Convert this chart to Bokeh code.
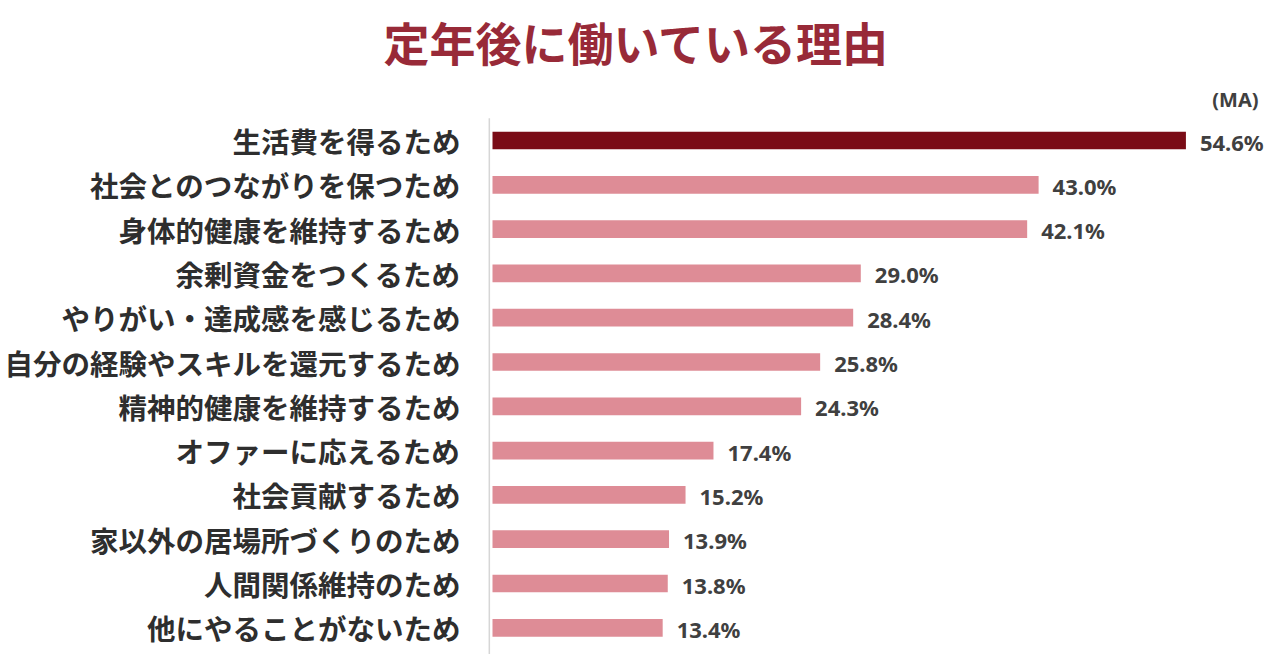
from bokeh.plotting import figure
from bokeh.models import Range1d, Label, ColumnDataSource
from bokeh.core.properties import value
from bokeh.embed import file_html
from bokeh.resources import INLINE

title_text = "定年後に働いている理由"
note_text = "(MA)"
categories = [
    "生活費を得るため",
    "社会とのつながりを保つため",
    "身体的健康を維持するため",
    "余剰資金をつくるため",
    "やりがい・達成感を感じるため",
    "自分の経験やスキルを還元するため",
    "精神的健康を維持するため",
    "オファーに応えるため",
    "社会貢献するため",
    "家以外の居場所づくりのため",
    "人間関係維持のため",
    "他にやることがないため",
]
values = [54.6, 43.0, 42.1, 29.0, 28.4, 25.8, 24.3, 17.4, 15.2, 13.9, 13.8, 13.4]

HIGHLIGHT = "#7A0C16"
BASE = "#DE8C96"

W, H = 1264, 654
PX_PER_UNIT = 12.7    # horizontal scale (px per %)
ZERO_PX = 492         # pixel of x=0 in canvas
ROW_PX = 44.3         # vertical spacing per row
FIRST_ROW_PX = 140    # pixel from top of first row centre

n = len(categories)
idx = list(range(n))
colors = [HIGHLIGHT if i == 0 else BASE for i in idx]
val_labels = [f"{v:.1f}%" for v in values]

src = ColumnDataSource(dict(y=idx, v=values, cat=categories, color=colors,
                            lab=val_labels, zero=[0] * n))

x_range = Range1d(-ZERO_PX / PX_PER_UNIT, (W - ZERO_PX) / PX_PER_UNIT)
y_range = Range1d((H - FIRST_ROW_PX) / ROW_PX, -FIRST_ROW_PX / ROW_PX)

p = figure(width=W, height=H, x_range=x_range, y_range=y_range,
           output_backend="svg", toolbar_location=None,
           x_axis_location=None, y_axis_location=None,
           min_border=0, min_border_left=0, min_border_right=0,
           min_border_top=0, min_border_bottom=0)
p.outline_line_color = None
p.background_fill_color = "white"
p.border_fill_color = "white"
p.grid.visible = False

# vertical baseline
p.segment(x0=[-0.25], y0=[-0.5], x1=[-0.25], y1=[n - 0.2],
          line_color="#D6D6D6", line_width=1.5)

p.hbar(y="y", left="zero", right="v", height=0.4, fill_color="color",
       line_color=None, source=src)

p.text(x="zero", y="y", text="cat", source=src, x_offset=-32,
       text_align="right", text_baseline="middle",
       text_font=value("Noto Sans CJK JP"), text_font_style="bold",
       text_font_size="28.5px", text_color="#2E2E2E")

p.text(x="v", y="y", text="lab", source=src, x_offset=14, y_offset=1,
       text_align="left", text_baseline="middle",
       text_font=value("Noto Sans"), text_font_style="bold",
       text_font_size="22px", text_color="#404040")

p.add_layout(Label(x=636, y=H - 40, x_units="screen", y_units="screen",
                   text=title_text, text_align="center", text_baseline="middle",
                   text_font="Noto Sans CJK JP", text_font_style="bold",
                   text_font_size="46px", text_color="#982A38"))

p.add_layout(Label(x=1258, y=H - 99, x_units="screen", y_units="screen",
                   text=note_text, text_align="right", text_baseline="middle",
                   text_font="Noto Sans", text_font_style="bold",
                   text_font_size="20px", text_color="#404040"))

open("out.html", "w").write(file_html(p, INLINE))
